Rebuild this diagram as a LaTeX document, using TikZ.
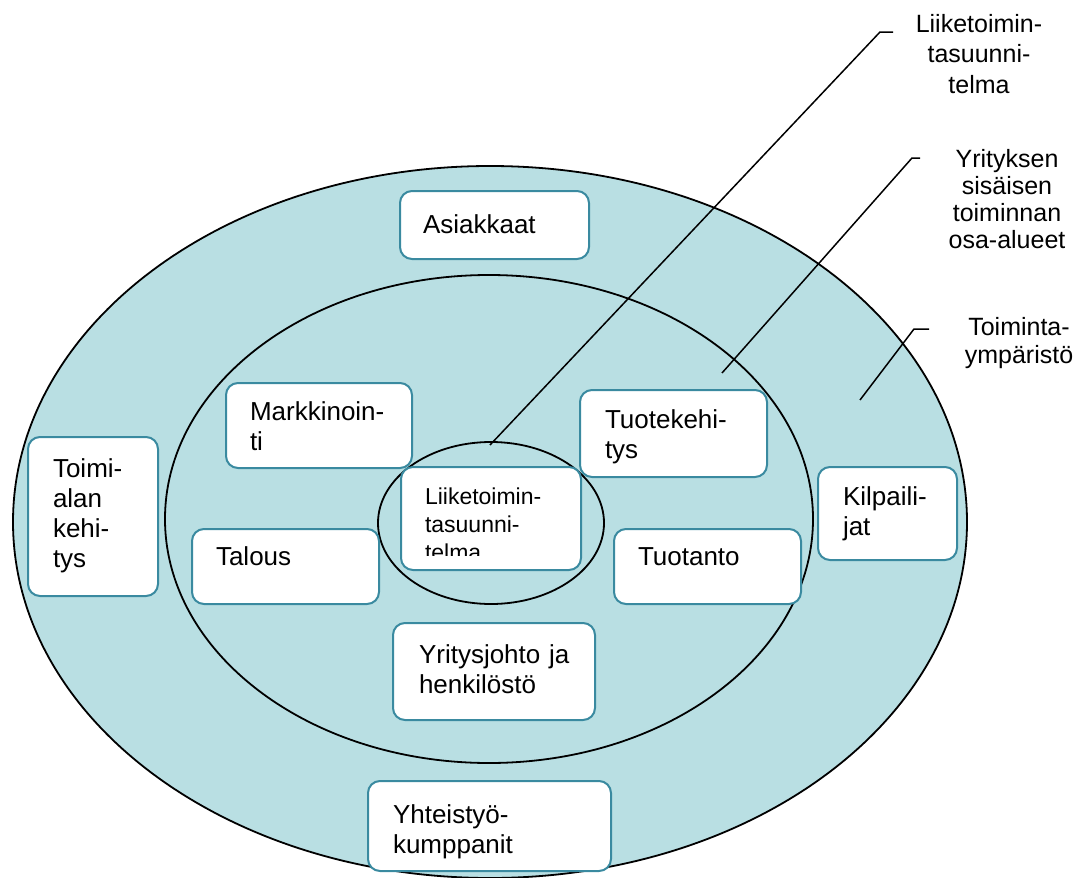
\documentclass[tikz,border=0pt]{standalone}
\usepackage{fontspec}
\setmainfont{Liberation Sans}
\usepackage{tikz}
\usepackage{xcolor}
\definecolor{taus}{HTML}{B9DFE3}
\definecolor{reuna}{HTML}{3A8AA0}
\hyphenpenalty=10000
\exhyphenpenalty=10000

\begin{document}
\begin{tikzpicture}[x=1pt, y=-1pt,
    kaari/.style={draw=black, line width=1.8pt, fill=taus},
    blok/.style={draw=reuna, line width=2pt, fill=white, rounded corners=12pt, anchor=north west,
        outer sep=0pt, inner ysep=0pt, align=left, font=\fontsize{26}{30}\selectfont},
    merkki/.style={anchor=base, inner sep=0pt, text width=170pt, align=center, font=\fontsize{25}{29}\selectfont},
    viiva/.style={line width=1.5pt}]
    \useasboundingbox (0,0) rectangle (1080,878);

    % the three rings
    \path[kaari] (490,522) ellipse [x radius=477pt, y radius=356pt];
    \path[kaari] (489,519) ellipse [x radius=324pt, y radius=244pt];
    \path[kaari] (491,523) ellipse [x radius=113pt, y radius=81pt];

    % outer ring: toimintaympäristö
    \node[blok, inner xsep=23pt, text width=143pt, text height=42pt, text depth=26pt] (asiakkaat) at (400,191) {Asiakkaat};
    \node[blok, inner xsep=25pt, text width=80pt, text height=40pt, text depth=119pt] (toimiala) at (28,437) {Toimi-\\alan\\kehi-\\tys};
    \node[blok, inner xsep=25pt, text width=89pt, text height=38pt, text depth=55pt] (kilpailijat) at (818,467) {Kilpaili-\\jat};
    \node[blok, inner xsep=25pt, text width=193pt, text height=42pt, text depth=48pt] (yhteistyo) at (368,781) {Yhteistyö-\\kumppanit};

    % middle ring: osa-alueet
    \node[blok, inner xsep=24pt, text width=138pt, text height=37pt, text depth=48pt] (markkinointi) at (226,383) {Markkinoin-\\ti};
    \node[blok, inner xsep=25pt, text width=137pt, text height=38pt, text depth=49pt] (tuotekehitys) at (580,390) {Tuotekehi-\\tys};
    \node[blok, inner xsep=24pt, text width=139pt, text height=36pt, text depth=39pt] (talous) at (192,529) {Talous};
    \node[blok, inner xsep=24pt, text width=139pt, text height=36pt, text depth=39pt] (tuotanto) at (614,529) {Tuotanto};
    \node[blok, inner xsep=26pt, text width=150pt, text height=40pt, text depth=57pt] (yritysjohto) at (393,623) {Yritysjohto~ja\\henkilöstö};

    % inner ring, last line cut off by the box
    \node[blok, inner xsep=24pt, text width=132pt, text height=37pt, text depth=66pt,
        font=\fontsize{23}{28}\selectfont] (liiketoiminta) at (401,467) {Liiketoimin-\\tasuunni-\\telma};
    \fill[white] ([shift={(14pt,2pt)}]liiketoiminta.south west) rectangle ([shift={(-14pt,14pt)}]liiketoiminta.south east);

    % labels on the right
    \node[merkki, font=\fontsize{25}{30.5}\selectfont] (suunnitelma) at (979,32) {Liiketoimin-\\tasuunni-\\telma};
    \node[merkki, font=\fontsize{25}{27}\selectfont] (osaalueet) at (1007,167) {Yrityksen\\sisäisen\\toiminnan\\osa-alueet};
    \node[merkki, font=\fontsize{25}{28}\selectfont] (ymparisto) at (1019,335) {Toiminta-\\ympäristö};

    % pointer lines
    \coordinate (suunnitelma-piste) at (490,445);
    \coordinate (suunnitelma-kulma) at (880,32);
    \draw[viiva] (suunnitelma-piste) -- (suunnitelma-kulma) -- ++(13,0);

    \coordinate (osaalueet-piste) at (722,373);
    \coordinate (osaalueet-kulma) at (912,158);
    \draw[viiva] (osaalueet-piste) -- (osaalueet-kulma) -- ++(8,0);

    \coordinate (ymparisto-piste) at (860,400);
    \coordinate (ymparisto-kulma) at (914,329);
    \draw[viiva] (ymparisto-piste) -- (ymparisto-kulma) -- ++(15,0);
\end{tikzpicture}
\end{document}
